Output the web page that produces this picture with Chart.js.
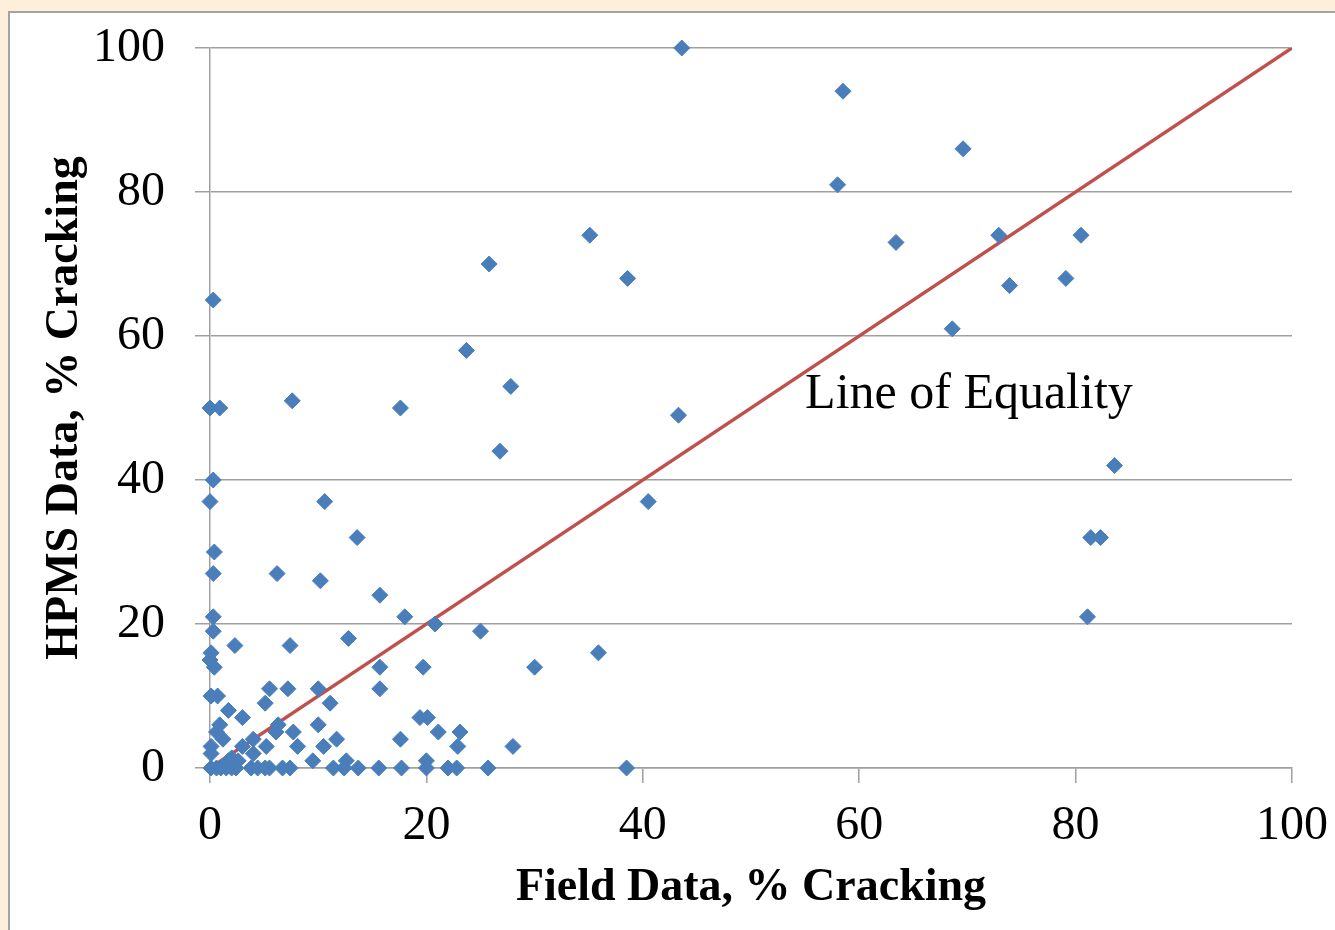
<!DOCTYPE html>
<html>
<head>
<meta charset="utf-8">
<script src="https://cdn.jsdelivr.net/npm/chart.js@4"></script>
<style>
  html, body { margin: 0; padding: 0; background: #fdefda; overflow: hidden; }
  #panel {
    position: absolute; left: 8px; top: 11px; right: 0; bottom: 0;
    background: #fff; border-left: 2px solid #a3a3a3; border-top: 2px solid #a3a3a3;
  }
  #chart { position: absolute; left: 0; top: 0; }
</style>
</head>
<body>
<div id="panel"></div>
<canvas id="chart" width="1335" height="930"></canvas>
<script>
// field data (x) and HPMS data (y), % cracking
var fieldData = [
  43.6, 58.5, 58.0, 69.6, 63.4, 72.9, 80.5, 73.9, 79.1, 68.6,
  83.6, 81.4, 82.3, 81.1, 35.1, 25.8, 38.6, 23.7, 27.8, 43.3,
  26.8, 40.5, 35.9, 30.0, 28.0, 38.5, 25.0, 20.8, 18.0, 17.6,
  7.6, 0.9, 0.0, 0.3, 0.3, 0.0, 10.6, 13.6, 0.4, 0.3,
  6.2, 10.2, 15.7, 0.3, 0.3, 2.3, 7.4, 12.8, 0.1, 0.0,
  0.4, 15.7, 19.7, 15.7, 11.1, 10.0, 7.2, 5.5, 5.1, 0.1,
  0.7, 1.7, 3.0, 0.9, 0.6, 1.2, 0.1, 0.1, 6.3, 6.1,
  7.7, 10.0, 4.0, 3.0, 5.2, 4.0, 8.1, 10.5, 11.7, 9.5,
  12.6, 2.0, 1.7, 2.6, 19.4, 20.1, 17.6, 21.1, 23.1, 22.9,
  20.0, 0.1, 0.6, 1.0, 1.5, 2.0, 2.4, 3.8, 4.4, 5.1,
  5.5, 6.7, 7.4, 11.4, 12.4, 13.7, 15.6, 17.7, 20.0, 22.0,
  22.8, 25.7
];
var hpmsData = [
  100, 94, 81, 86, 73, 74, 74, 67, 68, 61,
  42, 32, 32, 21, 74, 70, 68, 58, 53, 49,
  44, 37, 16, 14, 3, 0, 19, 20, 21, 50,
  51, 50, 50, 65, 40, 37, 37, 32, 30, 27,
  27, 26, 24, 21, 19, 17, 17, 18, 16, 15,
  14, 14, 14, 11, 9, 11, 11, 11, 9, 10,
  10, 8, 7, 6, 5, 4, 3, 2, 6, 5,
  5, 6, 4, 3, 3, 2, 3, 3, 4, 1,
  1, 1.4, 1, 1, 7, 7, 4, 5, 5, 3,
  1, 0, 0, 0, 0, 0, 0, 0, 0, 0,
  0, 0, 0, 0, 0, 0, 0, 0, 0, 0,
  0, 0
];
var equalityLine = [0, 100];
var axisTicks = [0, 20, 40, 60, 80, 100];

var FONT = "'Liberation Serif', 'Times New Roman', serif";
var GRID = "#a0a0a0";

var points = [];
for (var i = 0; i < fieldData.length; i++) {
  points.push({ x: fieldData[i], y: hpmsData[i] });
}
var linePts = [];
for (var j = 0; j < equalityLine.length; j++) {
  linePts.push({ x: equalityLine[j], y: equalityLine[j] });
}

function fixedTicks(s) {
  s.ticks = axisTicks.map(function (v) { return { value: v }; });
}

var labelPlugin = {
  id: "equalityLabel",
  afterDatasetsDraw: function (chart) {
    var ctx = chart.ctx;
    var xs = chart.scales.x, ys = chart.scales.y;
    ctx.save();
    ctx.font = "50px " + FONT;
    ctx.fillStyle = "#000";
    ctx.textBaseline = "alphabetic";
    ctx.fillText("Line of Equality", xs.getPixelForValue(55), ys.getPixelForValue(50));
    ctx.restore();
  }
};

new Chart(document.getElementById("chart").getContext("2d"), {
  type: "scatter",
  data: {
    datasets: [
      {
        label: "HPMS",
        data: points,
        order: 1,
        clip: false,
        pointStyle: "rectRot",
        pointRadius: 8,
        pointHoverRadius: 8,
        backgroundColor: "#4a7ebb",
        borderColor: "#4a7ebb",
        borderWidth: 1
      },
      {
        type: "line",
        label: "Line of Equality",
        data: linePts,
        order: 2,
        borderColor: "#c0504d",
        borderWidth: 3.5,
        pointRadius: 0,
        fill: false
      }
    ]
  },
  options: {
    responsive: false,
    animation: false,
    devicePixelRatio: 1,
    layout: { padding: { left: 0, top: 48, right: 43, bottom: 0 } },
    plugins: { legend: { display: false }, tooltip: { enabled: false } },
    scales: {
      x: {
        type: "linear",
        min: 0, max: 100,
        afterBuildTicks: fixedTicks,
        afterFit: function (s) { s.height = 162; s.paddingLeft = 0; s.paddingRight = 0; },
        grid: { drawOnChartArea: false, drawTicks: true, tickLength: 15, color: GRID, lineWidth: 1.5 },
        border: { color: GRID, width: 1.5 },
        ticks: { color: "#000", padding: 15, font: { family: FONT, size: 48 } },
        title: {
          display: true, text: "Field Data, % Cracking", color: "#000",
          font: { family: FONT, size: 46, weight: "bold" },
          padding: { top: 0, bottom: 14 }
        }
      },
      y: {
        type: "linear",
        min: 0, max: 100,
        afterBuildTicks: fixedTicks,
        afterFit: function (s) { s.width = 210; s.paddingTop = 0; s.paddingBottom = 0; },
        grid: { drawTicks: true, tickLength: 15, color: GRID, lineWidth: 1.5 },
        border: { color: GRID, width: 1.5 },
        ticks: { color: "#000", padding: 30, font: { family: FONT, size: 48 } },
        title: {
          display: true, text: "HPMS Data, % Cracking", color: "#000",
          font: { family: FONT, size: 46, weight: "bold" },
          padding: { top: 38, bottom: 0 }
        }
      }
    }
  },
  plugins: [labelPlugin]
});
</script>
</body>
</html>
